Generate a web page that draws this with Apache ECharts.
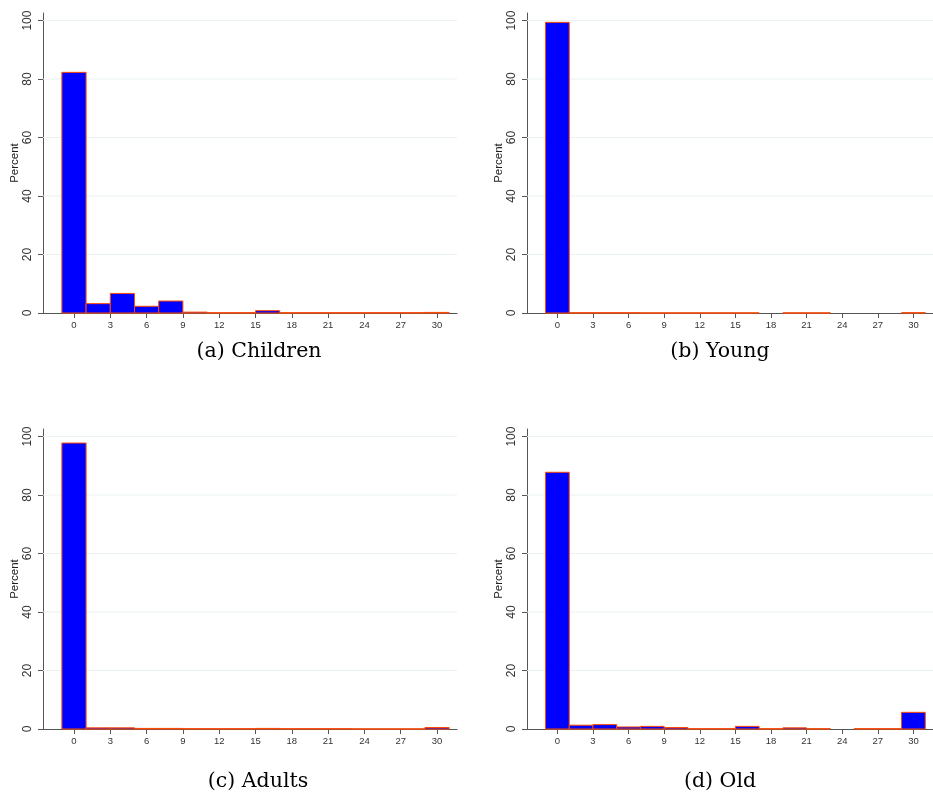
<!DOCTYPE html>
<html>
<head>
<meta charset="utf-8">
<script src="https://cdn.jsdelivr.net/npm/echarts@6/dist/echarts.min.js"></script>
<style>
html,body{margin:0;padding:0;background:#fff;}
#chart{width:933px;height:805px;}
</style>
</head>
<body>
<div id="chart"></div>
<script>
// Bin centers (bin width 2)
const binCenters = [0,2,4,6,8,10,12,14,16,18,20,22,24,26,28,30];
const xTicks = [0,3,6,9,12,15,18,21,24,27,30];
const yTicks = [0,20,40,60,80,100];
const gridValues = [20,40,60,80,100];

const childrenPct = [82.3,3.2,6.7,2.3,4.1,0.3,0.1,0.1,0.8,0.1,0.1,0.1,0.1,0.1,0.1,0.2];
const youngPct    = [99.4,0.1,0.1,0.1,0.05,0.05,0.05,0.05,0.05,0,0.05,0.05,0,0,0,0.1];
const adultsPct   = [97.8,0.4,0.4,0.2,0.2,0.1,0.1,0.1,0.2,0.1,0.1,0.1,0.05,0.05,0.05,0.5];
const oldPct      = [87.8,1.3,1.5,0.7,0.9,0.5,0.1,0.1,0.9,0.1,0.4,0.1,0,0.1,0.1,5.7];

const panels = [
  {name:'(a) Children', values: childrenPct},
  {name:'(b) Young', values: youngPct},
  {name:'(c) Adults', values: adultsPct},
  {name:'(d) Old', values: oldPct}
];

const X_MIN = -2.56, X_MAX = 31.65, Y_MAX = 102.6, HALF = 1;
const gridPos = [
  {left:43, top:13, width:414, height:300},
  {left:527, top:13, width:414, height:300},
  {left:43, top:429, width:414, height:300},
  {left:527, top:429, width:414, height:300}
];
const captionPos = [[259,352],[720,352],[258,782],[720,782]];

const axisColor = '#555555';
const sans = 'Liberation Sans, Arial, sans-serif';
const grids = [], xAxes = [], yAxes = [], series = [], graphics = [];

panels.forEach((p, i) => {
  grids.push(Object.assign({containLabel:false}, gridPos[i]));
  xAxes.push({
    type:'value', gridIndex:i, min:X_MIN, max:X_MAX,
    axisLine:{show:true, onZero:false, lineStyle:{color:axisColor, width:1}},
    axisTick:{show:true, length:5, customValues:xTicks, lineStyle:{color:axisColor}},
    axisLabel:{show:true, customValues:xTicks, fontSize:9.5, color:'#333', margin:7, fontFamily:sans},
    splitLine:{show:false}
  });
  yAxes.push({
    type:'value', gridIndex:i, min:0, max:Y_MAX,
    name:'Percent', nameLocation:'middle', nameRotate:90, nameGap:22,
    nameTextStyle:{fontSize:11.5, color:'#222', fontFamily:sans},
    axisLine:{show:true, onZero:false, lineStyle:{color:axisColor, width:1}},
    axisTick:{show:true, length:5, customValues:yTicks, lineStyle:{color:axisColor}},
    axisLabel:{show:true, customValues:yTicks, fontSize:12, color:'#333', rotate:90, margin:9, fontFamily:sans},
    splitLine:{show:false}
  });
  // gridlines
  series.push({
    type:'custom', xAxisIndex:i, yAxisIndex:i, z:1, silent:true,
    data: gridValues.map(v => [v]),
    encode:{y:0},
    renderItem: function(params, api){
      const v = api.value(0);
      const a = api.coord([X_MIN, v]);
      const b = api.coord([X_MAX, v]);
      return {type:'line', shape:{x1:a[0], y1:a[1], x2:b[0], y2:b[1]}, style:{stroke:'#eaf1f3', lineWidth:1}};
    }
  });
  // histogram bars
  series.push({
    type:'custom', xAxisIndex:i, yAxisIndex:i, z:3, clip:false,
    data: binCenters.map((c, k) => [c, p.values[k]]),
    encode:{x:0, y:1},
    renderItem: function(params, api){
      const x = api.value(0), y = api.value(1);
      if (!(y > 0)) return null;
      const p0 = api.coord([x - HALF, 0]);
      const p1 = api.coord([x + HALF, y]);
      return {type:'rect', shape:{x:p0[0], y:p1[1], width:p1[0]-p0[0], height:p0[1]-p1[1]},
              style:{fill:'#0000ff', stroke:'#ff4a00', lineWidth:1}};
    }
  });
  graphics.push({
    type:'text', x:captionPos[i][0], y:captionPos[i][1],
    style:{text:p.name, textAlign:'center', textVerticalAlign:'middle',
           font:'20.5px "DejaVu Serif", serif', fill:'#000'}
  });
});

const chart = echarts.init(document.getElementById('chart'), null, {renderer:'canvas'});
chart.setOption({
  animation:false,
  backgroundColor:'#ffffff',
  grid:grids, xAxis:xAxes, yAxis:yAxes, series:series, graphic:graphics
});
</script>
</body>
</html>
